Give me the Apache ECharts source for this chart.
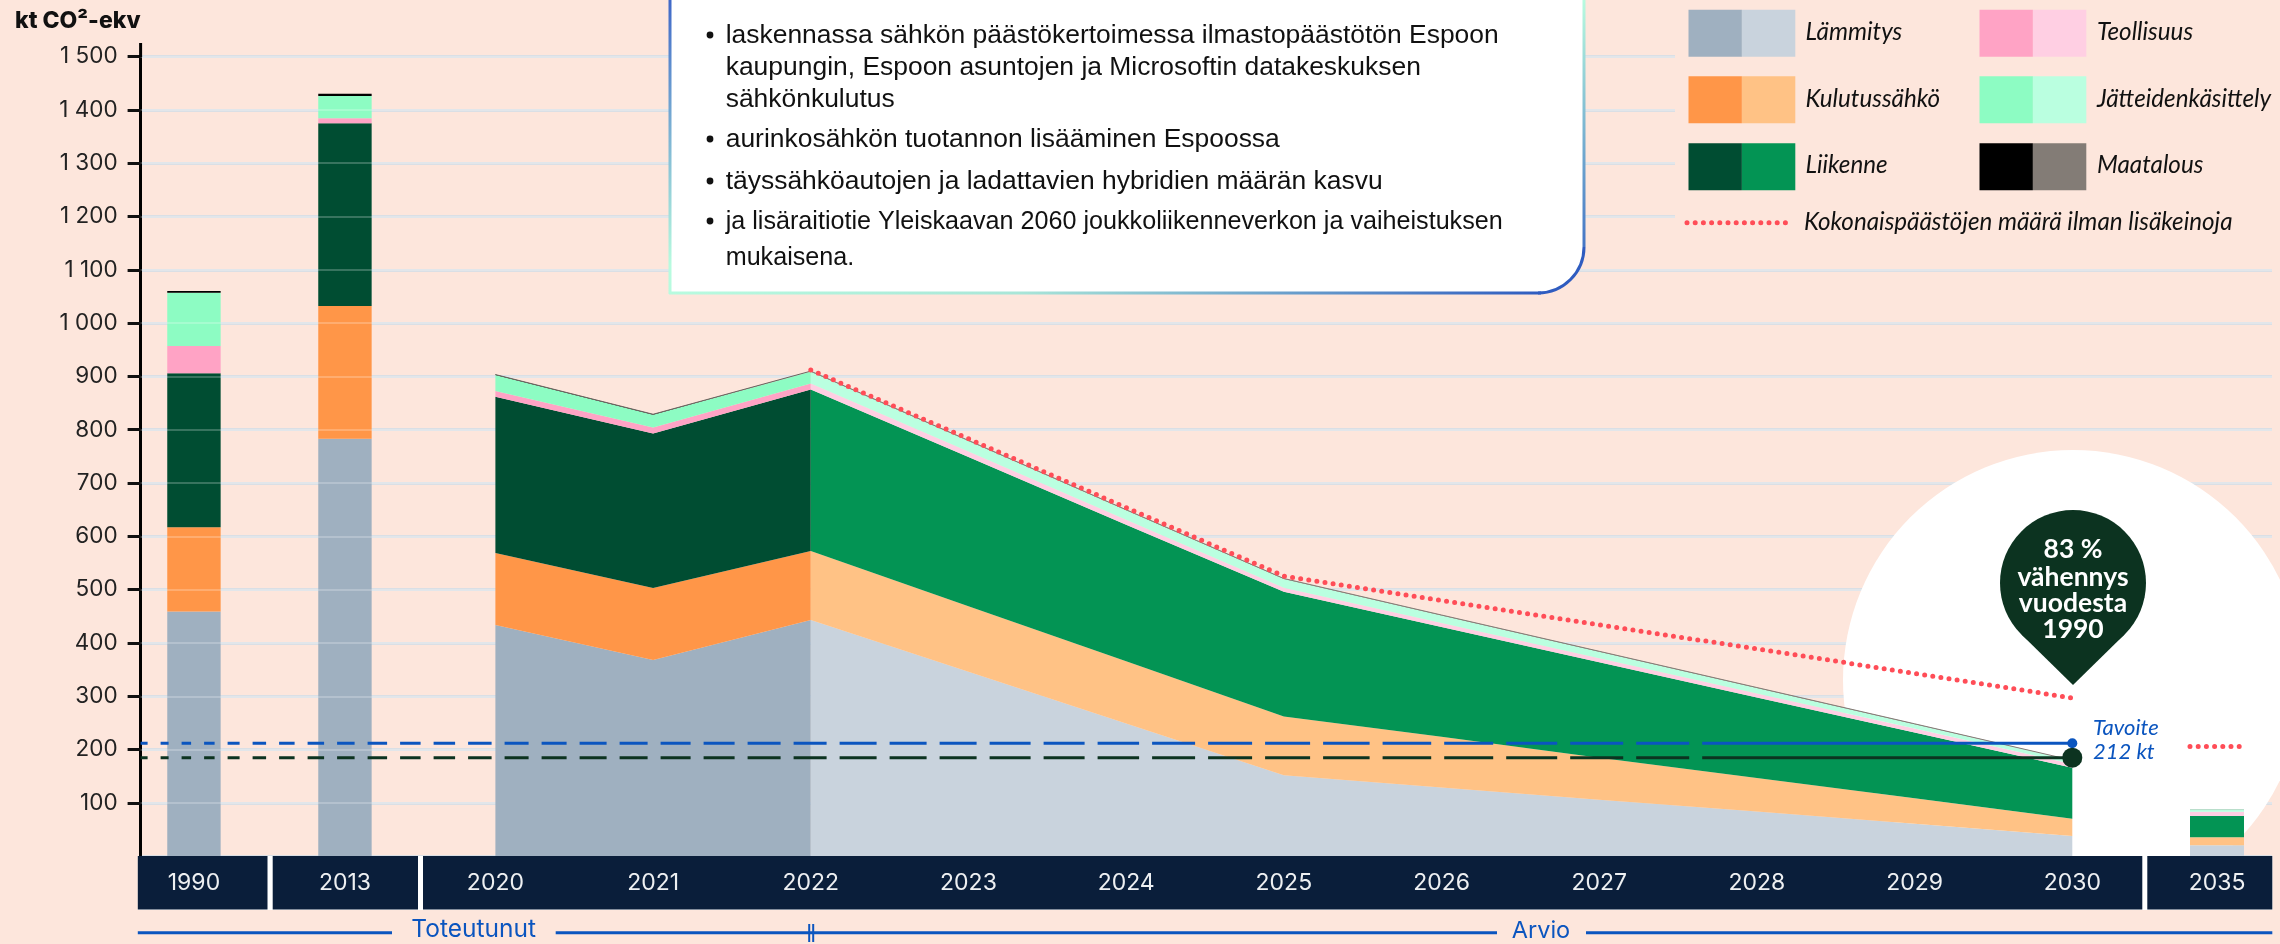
<!DOCTYPE html>
<html><head><meta charset="utf-8">
<style>html,body{margin:0;padding:0;background:#fde6dc}#c{width:2280px;height:944px}</style>
<script src="https://cdn.jsdelivr.net/npm/echarts@6/dist/echarts.min.js"></script>
</head><body><div id="c"></div>
<script>
const earlyYears = ['1990','2013'];
const trendYears = ['2020','2021','2022','2023','2024','2025','2026','2027','2028','2029','2030'];
const lateYears = ['2035'];
const yTicks = [100,200,300,400,500,600,700,800,900,1000,1100,1200,1300,1400,1500];

const sectorNames = ['Lämmitys','Kulutussähkö','Liikenne','Teollisuus','Jätteidenkäsittely','Maatalous'];
const actualColors = ['#9fb0c0','#ff9648','#004d32','#ffa3c5','#8dfcc3','#000000'];
const forecastColors = ['#c9d3dd','#ffc285','#039454','#ffcfe3','#baffe0','#837c76'];

// early bars: 1990, 2013
const heating1 = [459,783];
const power1 = [158,249];
const traffic1 = [289,343];
const industry1 = [51,9];
const waste1 = [100,42];
const farm1 = [3,4];
// realised 2020-2022
const heating2 = [434,368,443];
const power2 = [135,135,129.5];
const traffic2 = [293,290,303];
const industry2 = [10.5,11,11.4];
const waste2 = [30,24,22];
const farm2 = [1,1,1];
// forecast 2022-2030
const heating3 = [443,346,249,152,129,106,84,61,38];
const power3 = [129.5,123,117,110,95,79,63,48,32.5];
const traffic3 = [303,280,256,234,206,179,151,123,95.5];
const industry3 = [11.4,10,9,7.6,7.5,7.5,7.5,7.5,7];
const waste3 = [22,20,18,16.4,14,12,10,8,6];
const farm3 = [1,1,1,1,1,1,1,1,1];
// 2035 bar
const late35 = [20.6,15,40,8,4.5,0.5];
// reference line without extra measures 2022-2030, and the 2035 value
const noMeasures = [912,783,654,525.6,480,434,389,343,297];
const noMeasures2035 = 207;
const goalTarget = 212;
const goalReached = 185;

const dashLengths = [7,8,9.5,10.5,12,13.5,15.5,16.5,17.5,19.5,20.5,21.5,23.5,24,25,27,28,30,31,33,33,37,37,37,41,41,41.5,43,44,45,46.5,48.6,49,51,53,53];
const dashGap = 13;
const dashPattern = dashLengths.flatMap(d => [d, dashGap]).concat([600, 0]);

const early = [heating1,power1,traffic1,industry1,waste1,farm1];
const actual = [heating2,power2,traffic2,industry2,waste2,farm2];
const forecast = [heating3,power3,traffic3,industry3,waste3,farm3];

const RED = '#ff4d57', BLUE = '#0b55bf', DARK = '#0c3320', NAVY = '#0a1e3a', BG = '#fde6dc';
const gTop = 56.5, gH = 799.8;
const labelFont = 'Inter';

const grids = [
  {left:140.6, width:2131.4, top:gTop, height:gH},
  {left:118.45, width:302, top:gTop, height:gH},
  {left:495.4, width:1576.9, top:gTop, height:gH},
  {left:2190, width:54, top:gTop, height:gH},
  {left:140.6, width:1931.7, top:gTop, height:gH}
];
const yearLabel = {show:true, interval:0, margin:15, color:'#eef0f2', fontFamily:labelFont, fontSize:23, showMinLabel:true, showMaxLabel:true};
const xAxes = [
  {type:'category', gridIndex:0, data:['','',''], show:false},
  {type:'category', gridIndex:1, data:earlyYears, z:7, axisLine:{show:false}, axisTick:{show:false}, axisLabel:yearLabel},
  {type:'category', gridIndex:2, data:trendYears, boundaryGap:false, z:7, axisLine:{show:false}, axisTick:{show:false}, axisLabel:yearLabel},
  {type:'category', gridIndex:3, data:lateYears, z:7, axisLine:{show:false}, axisTick:{show:false}, axisLabel:yearLabel},
  {type:'category', gridIndex:4, data:['1990','2030'], boundaryGap:false, show:false}
];
const hiddenY = i => ({type:'value', gridIndex:i, min:0, max:1500, interval:100, show:false});
const spaced = v => v >= 1000 ? String(v).slice(0, -3) + ' ' + String(v).slice(-3) : String(v);
const yAxes = [
  {type:'value', gridIndex:0, min:0, max:1500, interval:100, z:0,
   axisLine:{show:true, lineStyle:{color:'#000', width:3}},
   axisTick:{show:true, length:13, lineStyle:{color:'#111', width:3}},
   axisLabel:{margin:23, color:'#222', fontFamily:labelFont, fontSize:22.5, showMinLabel:false,
     formatter:v => yTicks.includes(v) ? spaced(v) : ''},
   splitLine:{show:true, lineStyle:{color:'#dadfe5', width:3}}},
  {type:'value', gridIndex:0, position:'right', min:0, max:1500, interval:100, z:3,
   axisLine:{show:false}, axisTick:{show:false}, axisLabel:{show:false},
   splitLine:{show:true, lineStyle:{color:'rgba(255,255,255,0.22)', width:2}}},
  hiddenY(1), hiddenY(2), hiddenY(3), hiddenY(4)
];

const series = [];
sectorNames.forEach((name, i) => {
  series.push({name, type:'bar', stack:'early', xAxisIndex:1, yAxisIndex:2, barWidth:53.4,
    itemStyle:{color:actualColors[i]}, data:early[i]});
  series.push({name, type:'line', stack:'actual', xAxisIndex:2, yAxisIndex:3, symbol:'none', clip:false,
    lineStyle:i === 5 ? {color:'#6a6560', width:1} : {width:0}, areaStyle:{color:actualColors[i], opacity:1},
    data:actual[i].concat(trendYears.slice(3).map(() => '-'))});
  series.push({name, type:'line', stack:'forecast', xAxisIndex:2, yAxisIndex:3, symbol:'none', clip:false,
    lineStyle:i === 5 ? {color:'#837c76', width:1} : {width:0}, areaStyle:{color:forecastColors[i], opacity:1},
    data:['-','-'].concat(forecast[i])});
  series.push({name, type:'bar', stack:'late', xAxisIndex:3, yAxisIndex:4, barWidth:'100%',
    itemStyle:{color:forecastColors[i]}, data:[late35[i]],
    markLine:i === 5 ? {silent:true, symbol:'none', z:4, animation:false, label:{show:false},
      lineStyle:{color:RED, width:5, type:[0,8.2], cap:'round'}, data:[{yAxis:noMeasures2035}]} : undefined});
});
series.push({name:'Kokonaispäästöjen määrä ilman lisäkeinoja', type:'line', xAxisIndex:2, yAxisIndex:3, z:4, symbol:'none', clip:false,
  lineStyle:{color:RED, width:5, type:[0,8.2], cap:'round'}, data:['-','-'].concat(noMeasures)});
const targetLine = (name, value, color, size, width) => ({name, type:'line', xAxisIndex:4, yAxisIndex:5, z:5, clip:false,
  showSymbol:true, showAllSymbol:true, lineStyle:{color, width, type:dashPattern}, itemStyle:{color},
  data:[{value, symbol:'none'}, {value, symbol:'circle', symbolSize:size}]});
series.push(targetLine('Tavoite', goalTarget, BLUE, 10, 3));
series.push(targetLine('Arvio 2030', goalReached, DARK, 20, 3));

// ---- annotations -----
const g = [];
const txt = (text, x, y, font, fill, align, z) => g.push({type:'text', z:z || 9, silent:true,
  style:{text, x, y, font, fill, textAlign:align || 'left', textVerticalAlign:'middle', textBaseline:'middle'}});
const rect = (x, y, width, height, fill, z, r) => g.push({type:'rect', z, silent:true,
  shape:{x, y, width, height, r:r || 0}, style:{fill}});

g.push({type:'circle', z:1, silent:true, shape:{cx:2073, cy:680, r:230}, style:{fill:'#fff'}});
// year band
rect(137.8, 856, 2134.7, 54, '#fff', 6);
[[137.8,129.7],[272.7,145.3],[423,1719.3],[2147.3,125]].forEach(b => rect(b[0], 856, b[1], 53.5, NAVY, 6.5));
// lower timeline
const timeline = [[137.8,392],[555.7,1497],[1586,2272.3]];
timeline.forEach(s => rect(s[0], 931.3, s[1]-s[0], 3, BLUE, 6));
rect(808.2, 924, 2, 18, BLUE, 6); rect(812.2, 924, 2, 18, BLUE, 6);
txt('Toteutunut', 473.6, 930, '400 24.5px Inter', BLUE, 'center');
txt('Arvio', 1541, 931, '400 23.5px Inter', BLUE, 'center');
// top of y axis
rect(139.1, 43, 3, 14, '#000', 6);
// text box
const linGrad = (x, y, x2, y2, a, b, mid) => ({type:'linear', x, y, x2, y2, global:true,
  colorStops:[{offset:0, color:a}, {offset:mid || 1, color:b}].concat(mid ? [{offset:1, color:b}] : [])});
rect(670, -40, 914, 333, '#fff', 8, [0,0,46,0]);
g.push({type:'rect', z:8.5, silent:true, shape:{x:668.5, y:0, width:3, height:294},
  style:{fill:linGrad(0,0,0,294,'#3f68c8','#b8fbdf',0.9)}});
g.push({type:'rect', z:8.5, silent:true, shape:{x:669, y:291.5, width:872, height:3},
  style:{fill:{type:'linear', x:669, y:0, x2:1541, y2:0, global:true,
    colorStops:[{offset:0, color:'#b8fbdf'},{offset:0.4, color:'#a9e6d8'},{offset:1, color:'#2f5cc0'}]}}});
g.push({type:'line', z:8.5, silent:true, shape:{x1:1584, y1:0, x2:1584, y2:247},
  style:{stroke:linGrad(0,0,0,293,'#b8fbdf','#2f5cc0'), lineWidth:3}});
g.push({type:'arc', z:8.5, silent:true, shape:{cx:1538, cy:247, r:46, startAngle:0, endAngle:Math.PI/2, clockwise:true},
  style:{fill:'none', stroke:'#2f5cc0', lineWidth:3}});
const fontA = '26.45px "Liberation Sans"', fontB = '25.15px "Liberation Sans"';
[
  [36,'laskennassa sähkön päästökertoimessa ilmastopäästötön Espoon',true,fontA],
  [68,'kaupungin, Espoon asuntojen ja Microsoftin datakeskuksen',false,fontA],
  [100,'sähkönkulutus',false,fontA],
  [140,'aurinkosähkön tuotannon lisääminen Espoossa',true,fontA],
  [182,'täyssähköautojen ja ladattavien hybridien määrän kasvu',true,fontA],
  [222,'ja lisäraitiotie Yleiskaavan 2060 joukkoliikenneverkon ja vaiheistuksen',true,fontB],
  [258,'mukaisena.',false,fontB]
].forEach(l => {
  txt(l[1], 725.7, l[0], l[3], '#111');
  if (l[2]) g.push({type:'circle', z:9, silent:true, shape:{cx:710, cy:l[0]-1, r:3.4}, style:{fill:'#111'}});
});
// legend panel and legend
rect(1675, 0, 605, 245, BG, 4);
const legendCols = [[1688.5,1805.5],[1979.5,2097]];
const legendRows = [[9.7,32],[76.3,99],[143.3,165]];
sectorNames.forEach((name, i) => {
  const col = legendCols[Math.floor(i/3)], row = legendRows[i%3];
  rect(col[0], row[0], 53.4, 47, actualColors[i], 8);
  rect(col[0]+53.4, row[0], 53.4, 47, forecastColors[i], 8);
  txt(name, col[1], row[1], 'italic 24.2px Lato', '#111');
});
g.push({type:'line', z:8, silent:true, shape:{x1:1687, y1:222.7, x2:1790.5, y2:222.7},
  style:{stroke:RED, lineWidth:5, lineDash:[0,8.2], lineCap:'round'}});
txt('Kokonaispäästöjen määrä ilman lisäkeinoja', 1804, 222, 'italic 24.2px Lato', '#111');
// pin
g.push({type:'circle', z:8, silent:true, shape:{cx:2073, cy:583, r:73}, style:{fill:DARK}});
g.push({type:'polygon', z:8, silent:true, shape:{points:[[2073,685],[2022,635],[2073,583],[2124,635]]}, style:{fill:DARK}});
[['83 %',549],['vähennys',577],['vuodesta',603],['1990',629]].forEach(l => txt(l[0], 2073, l[1], 'bold 26.5px Lato', '#fff', 'center'));
txt('Tavoite', 2093, 728, 'italic 22px Lato', BLUE);
txt('212 kt', 2093, 752, 'italic 22px Lato', BLUE);

const chart = echarts.init(document.getElementById('c'), null, {renderer:'canvas'});
chart.setOption({
  animation:false,
  backgroundColor:BG,
  title:{text:'kt CO²-ekv', left:10, top:5, textStyle:{fontFamily:labelFont, fontWeight:800, fontSize:23, color:'#111'}},
  grid:grids, xAxis:xAxes, yAxis:yAxes, series, graphic:{elements:g}
});
</script></body></html>
